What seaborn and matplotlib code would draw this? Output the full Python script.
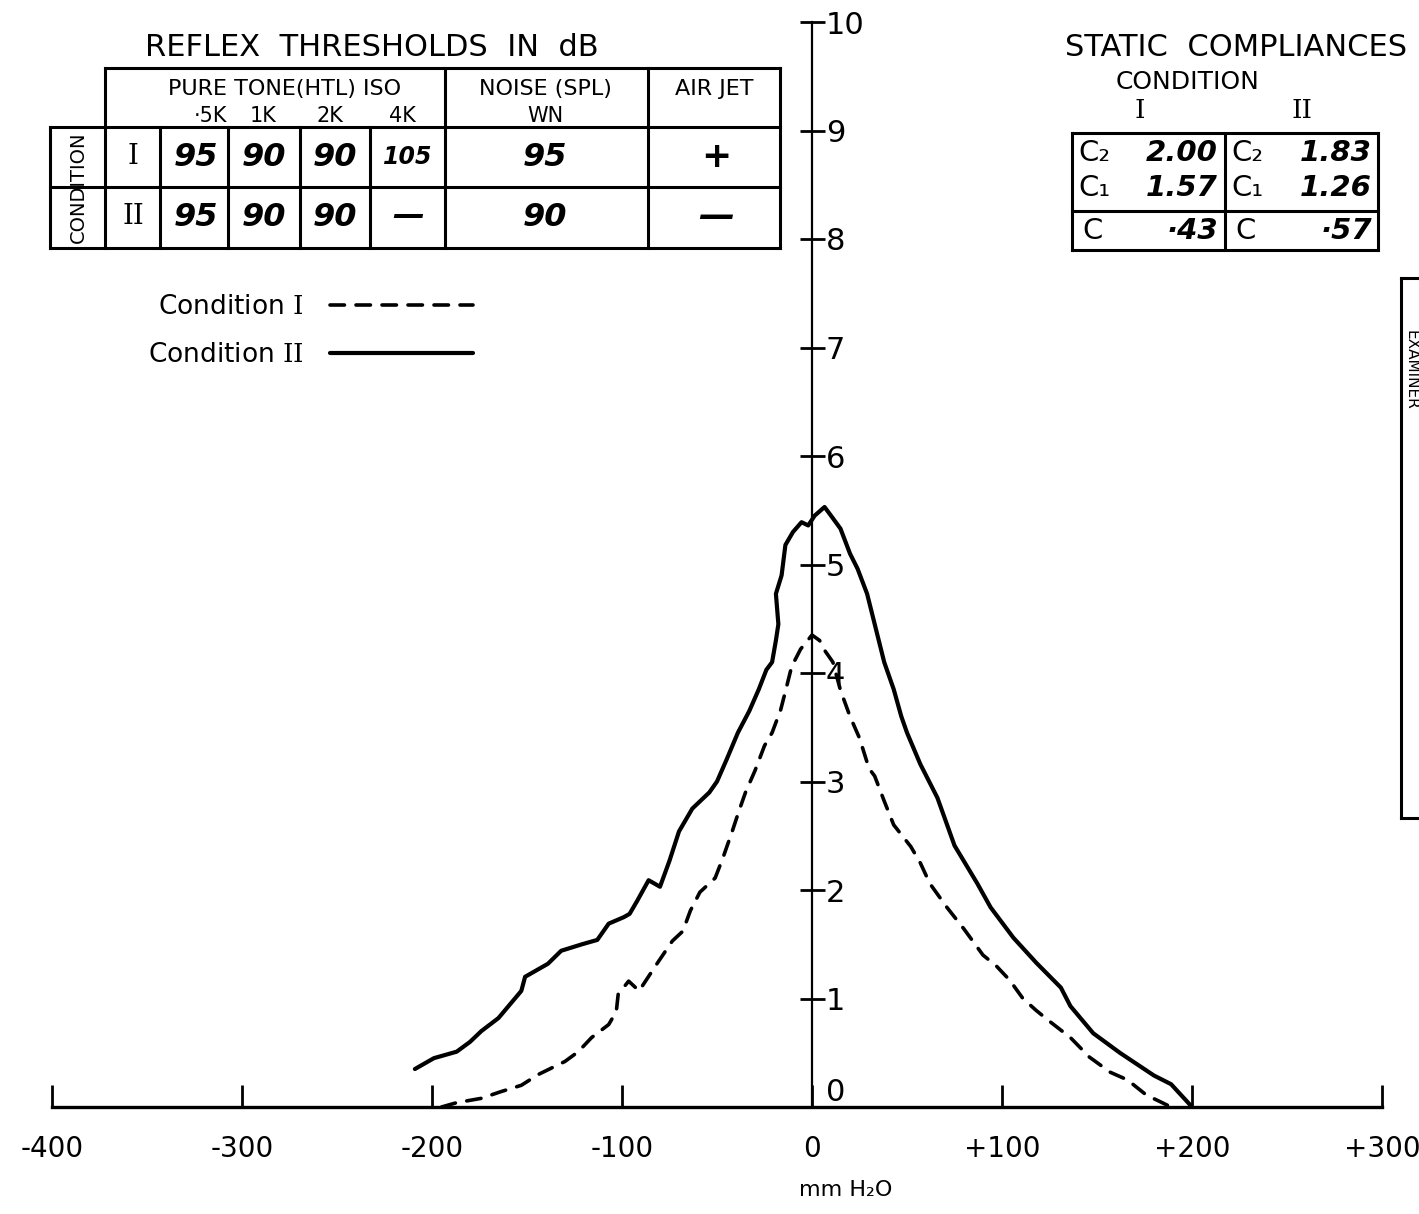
import matplotlib
matplotlib.use("Agg")
import matplotlib.pyplot as plt
import numpy as np
import pandas as pd
import seaborn as sns

# ---------------- data ----------------
pressure_I = [-195, -187, -174, -164, -153, -144, -137, -130, -123, -116, -107, -103,
              -102, -96.5, -91, -82, -73.5, -68, -64, -59, -51, -47, -42, -38.6, -35,
              -30, -25, -21, -16.5, -14, -10.7, -6, 0, 4, 7, 11, 15, 20, 25, 30, 33,
              38, 43, 52, 57, 62, 71, 80, 90, 97, 104, 111, 118, 125, 136, 146, 157,
              166, 176, 189]
compliance_I = [0.0, 0.04, 0.08, 0.14, 0.2, 0.3, 0.36, 0.42, 0.51, 0.64, 0.76, 0.88,
                1.04, 1.16, 1.07, 1.31, 1.53, 1.62, 1.81, 1.98, 2.11, 2.29, 2.54, 2.72, 2.9,
                3.1, 3.33, 3.45, 3.66, 3.83, 4.06, 4.22, 4.35, 4.3, 4.2, 4.1, 3.84, 3.6, 3.4,
                3.12, 3.05, 2.82, 2.6, 2.4, 2.25, 2.06, 1.84, 1.64, 1.4, 1.3, 1.17, 1.0,
                0.89, 0.79, 0.64, 0.46, 0.32, 0.25, 0.11, 0.0]

pressure_II = [-209, -199, -187, -180, -174, -165, -153, -151, -139, -132, -121, -113,
               -107, -103, -99, -96, -92, -86, -80, -75, -70, -63, -54, -50, -45, -39,
               -33, -28, -24, -21, -19, -17.7, -19, -16, -14, -10, -5.5, -2, 1.4, 6.6,
               10, 15, 20, 24, 29, 33, 38, 43, 47, 50, 57, 66, 75, 87, 94, 106, 118,
               131, 136, 148, 162, 180, 189, 199]
compliance_II = [0.35, 0.45, 0.51, 0.6, 0.7, 0.82, 1.07, 1.2, 1.32, 1.44, 1.5, 1.54,
                 1.69, 1.72, 1.75, 1.78, 1.9, 2.09, 2.03, 2.27, 2.54, 2.75, 2.9, 3.0, 3.2,
                 3.45, 3.65, 3.85, 4.03, 4.1, 4.3, 4.45, 4.73, 4.9, 5.18, 5.3, 5.39, 5.36,
                 5.45, 5.53, 5.45, 5.33, 5.1, 4.96, 4.73, 4.45, 4.1, 3.85, 3.6, 3.45, 3.16,
                 2.85, 2.41, 2.06, 1.84, 1.56, 1.33, 1.1, 0.93, 0.68, 0.5, 0.29, 0.21, 0.02]

x_ticks = [-400, -300, -200, -100, 0, 100, 200, 300]
x_tick_labels = ["-400", "-300", "-200", "-100", "0", "+100", "+200", "+300"]
y_ticks = [0, 1, 2, 3, 4, 5, 6, 7, 8, 9, 10]
x_label = "mm H\u2082O"

legend_labels = ["Condition $\\mathrm{I}$", "Condition $\\mathrm{II}$"]

reflex_title = "REFLEX  THRESHOLDS  IN  dB"
reflex_freqs = ["\u00b75K", "1K", "2K", "4K"]
reflex_rows = ["I", "II"]
reflex_tone = [["95", "90", "90", "105"], ["95", "90", "90", "\u2014"]]
reflex_noise = ["95", "90"]
reflex_airjet = ["+", "\u2014"]

static_title = "STATIC  COMPLIANCES"
static_c2 = ["2.00", "1.83"]
static_c1 = ["1.57", "1.26"]
static_c = ["\u00b743", "\u00b757"]

# ---------------- styling ----------------
sns.set_style("white")
plt.rcParams['font.family'] = ['DejaVu Sans']
plt.rcParams['mathtext.fontset'] = 'custom'
plt.rcParams['mathtext.rm'] = 'DejaVu Serif'
plt.rcParams['text.color'] = 'black'

W, H = 1419, 1214
fig = plt.figure(figsize=(W / 100, H / 100), dpi=100)
fig.patch.set_facecolor('white')

px_left, px_right = 52, 1382
px_zero, px_ten = 1107, 22
ax = fig.add_axes([px_left / W, 1 - px_zero / H, (px_right - px_left) / W, (px_zero - px_ten) / H])
ax.set_facecolor('none')

dfI = pd.DataFrame({"p": pressure_I, "c": compliance_I})
dfII = pd.DataFrame({"p": pressure_II, "c": compliance_II})
sns.lineplot(data=dfI, x="p", y="c", sort=False, estimator=None, color="black",
             linewidth=2.6, linestyle=(0, (4, 3.2)), dash_capstyle='round',
             label=legend_labels[0], ax=ax)
sns.lineplot(data=dfII, x="p", y="c", sort=False, estimator=None, color="black",
             linewidth=3.0, solid_joinstyle='round', label=legend_labels[1], ax=ax)

ax.set_xlim(-400, 300)
ax.set_ylim(0, 10)
ax.set_xlabel("")
ax.set_ylabel("")
for s in ['left', 'top']:
    ax.spines[s].set_visible(False)
ax.spines['right'].set_position(('data', 0))
ax.spines['right'].set_linewidth(1.6)
ax.spines['right'].set_color('black')
ax.spines['bottom'].set_linewidth(2.4)
ax.spines['bottom'].set_color('black')
ax.yaxis.tick_right()
ax.set_xticks(x_ticks, x_tick_labels)
ax.set_yticks(y_ticks, [str(v) for v in y_ticks])
ax.tick_params(axis='y', which='major', direction='inout', length=18, width=2,
               labelsize=22, pad=1, colors='black', right=True, left=False)
ax.tick_params(axis='x', which='major', direction='in', length=16, width=2,
               labelsize=20, pad=20, colors='black', bottom=True, top=False)
t0 = ax.yaxis.get_major_ticks()[0]
t0.tick2line.set_visible(False)
t0.label2.set_va('bottom')

# overlay in pixel coordinates for the annotation tables
ov = fig.add_axes([0, 0, 1, 1])
ov.set_xlim(0, W)
ov.set_ylim(H, 0)
ov.axis('off')

def hl(y, xa, xb, lw=2.2):
    ov.plot([xa, xb], [y, y], color='black', lw=lw, solid_capstyle='projecting')

def vl(x, ya, yb, lw=2.2):
    ov.plot([x, x], [ya, yb], color='black', lw=lw, solid_capstyle='projecting')

hand = dict(fontstyle='italic', fontweight='bold', ha='center', va='center', color='black')

# --- reflex thresholds table ---
ov.text(372, 48, reflex_title, fontsize=22, ha='center', va='center')
hl(68, 105, 780)
hl(127, 50, 780)
hl(187, 50, 780)
hl(248, 50, 780)
vl(50, 127, 248)
vl(105, 68, 248)
vl(445, 68, 248)
vl(648, 68, 248)
vl(780, 68, 248)
for xc in [160, 228, 300, 370]:
    vl(xc, 127, 248)
ov.text(285, 89, "PURE TONE(HTL) ISO", fontsize=16, ha='center', va='center')
ov.text(545, 89, "NOISE (SPL)", fontsize=16, ha='center', va='center')
ov.text(545, 116, "WN", fontsize=15, ha='center', va='center')
ov.text(714, 89, "AIR JET", fontsize=16, ha='center', va='center')
for f, xc in zip(reflex_freqs, [210, 263, 330, 402]):
    ov.text(xc, 116, f, fontsize=15, ha='center', va='center')
ov.text(78, 187, "CONDITION", fontsize=14, rotation=90, ha='center', va='center')
col_x = [196, 264, 335, 408]
for r, yc in enumerate([157, 217]):
    ov.text(133, yc, reflex_rows[r], fontsize=20, family='DejaVu Serif',
            ha='center', va='center')
    for c, xc in enumerate(col_x):
        val = reflex_tone[r][c]
        ov.text(xc, yc, val, fontsize=17 if len(val) == 3 else 23, **hand)
    ov.text(545, yc, reflex_noise[r], fontsize=23, **hand)
    ov.text(716, yc, reflex_airjet[r], fontsize=26, **hand)

# --- static compliances table ---
ov.text(1236, 48, static_title, fontsize=22, ha='center', va='center')
ov.text(1188, 82, "CONDITION", fontsize=18, ha='center', va='center')
ov.text(1140, 110, "I", fontsize=19, family='DejaVu Serif', ha='center', va='center')
ov.text(1302, 110, "II", fontsize=19, family='DejaVu Serif', ha='center', va='center')
hl(133, 1072, 1378)
hl(211, 1072, 1378)
hl(250, 1072, 1378)
vl(1072, 133, 250)
vl(1225, 133, 250)
vl(1378, 133, 250)
for i, xl in enumerate([1078, 1231]):
    xr = 1218 if i == 0 else 1372
    ov.text(xl, 153, "C\u2082", fontsize=21, ha='left', va='center')
    ov.text(xl, 188, "C\u2081", fontsize=21, ha='left', va='center')
    ov.text(xl + 4, 231, "C", fontsize=21, ha='left', va='center')
    ov.text(xr, 153, static_c2[i], fontsize=21, fontstyle='italic', fontweight='bold', ha='right', va='center')
    ov.text(xr, 188, static_c1[i], fontsize=21, fontstyle='italic', fontweight='bold', ha='right', va='center')
    ov.text(xr, 231, static_c[i], fontsize=21, fontstyle='italic', fontweight='bold', ha='right', va='center')

# --- examiner box at the right edge ---
hl(278, 1401, 1425)
hl(818, 1401, 1425)
vl(1401, 278, 818)
ov.text(1411, 370, "EXAMINER", fontsize=11, rotation=-90, ha='center', va='center')

# --- axis label ---
ov.text(846, 1190, x_label, fontsize=16, ha='center', va='center')

# --- legend (text first, line after) ---
handles, labels = ax.get_legend_handles_labels()
ax.legend(handles, labels, loc='upper left', bbox_to_anchor=(148, 294),
          bbox_transform=ov.transData, markerfirst=False, frameon=False,
          prop={'size': 19}, handlelength=5.4, handletextpad=1.0,
          labelspacing=0.85, borderpad=0, borderaxespad=0)

fig.savefig("out.png", dpi=100, facecolor='white')
